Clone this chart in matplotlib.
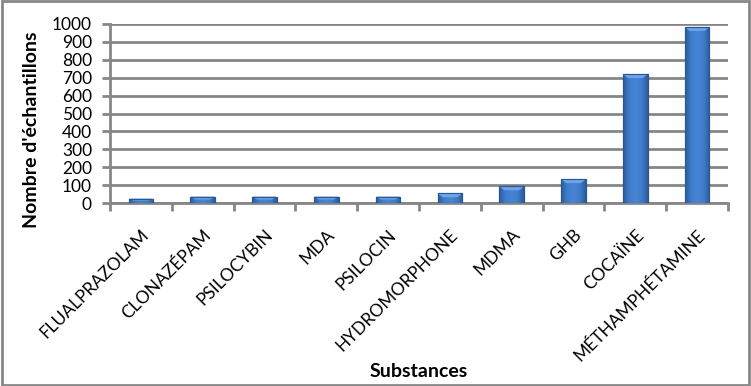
import matplotlib
matplotlib.use("Agg")
import matplotlib.pyplot as plt
import numpy as np
from matplotlib.patches import Rectangle, Polygon
from matplotlib.colors import LinearSegmentedColormap

categories = ["FLUALPRAZOLAM", "CLONAZÉPAM", "PSILOCYBIN", "MDA", "PSILOCIN",
              "HYDROMORPHONE", "MDMA", "GHB", "COCAÏNE", "MÉTHAMPHÉTAMINE"]
values = [25, 36, 36, 36, 36, 54, 93, 133, 720, 983]
yticks = [0, 100, 200, 300, 400, 500, 600, 700, 800, 900, 1000]

plt.rcParams['font.family'] = ['Lato', 'DejaVu Sans']

fig = plt.figure(figsize=(7.51, 3.86), dpi=100)
ax = fig.add_axes([110/751, 1-203/386, (728-110)/751, (203-24)/386])

x = np.arange(len(categories))
bars = ax.bar(x, values, width=0.4, color="#3A72BD", edgecolor="#2A5590", linewidth=0.8, zorder=3)

cmap = LinearSegmentedColormap.from_list("bev", ["#2C5C9C", "#3F7DCB", "#4585D3", "#3F7DCB", "#2C5C9C"])
grad = np.linspace(0, 1, 64).reshape(1, -1)
for b in bars:
    h = b.get_height()
    bx = b.get_x()
    w = b.get_width()
    im = ax.imshow(grad, cmap=cmap, aspect="auto", extent=(bx, bx + w, 0, h), zorder=3.5)
    im.set_clip_path(b)
    cap = min(h * 0.45, 22)
    ax.add_patch(Polygon([(bx, h), (bx + w, h), (bx + w*0.8, h - cap), (bx + w*0.2, h - cap)],
                         closed=True, facecolor="#6BA4EA", edgecolor="none", zorder=4))
    ax.add_patch(Rectangle((bx, 0), w, h, fill=False, edgecolor="#2A5590", linewidth=0.8, zorder=5))

ax.set_xlim(-0.5, len(categories) - 0.5)
ax.set_ylim(0, 1000)
ax.set_yticks(yticks)
ax.set_yticklabels([str(t) for t in yticks], fontsize=12.5)
ax.yaxis.grid(True, color="#868686", linewidth=2, zorder=0)
ax.set_axisbelow(True)

ax.set_xticks(x)
ax.set_xticklabels(categories, rotation=45, ha="right", rotation_mode="anchor", fontsize=12.5)
ax.tick_params(axis="x", length=0, pad=17)
ax.set_xticks(np.arange(-0.5, len(categories), 1), minor=True)
ax.tick_params(axis="x", which="minor", length=5.5, width=2, color="#868686")
ax.tick_params(axis="y", length=6, width=2, color="#868686", pad=7)

for s in ["top", "right"]:
    ax.spines[s].set_visible(False)
for s in ["left", "bottom"]:
    ax.spines[s].set_color("#868686")
    ax.spines[s].set_linewidth(2)

ax.set_ylabel("Nombre d'échantillons", fontsize=14, fontweight="bold")
ax.yaxis.set_label_coords(-0.114, 0.408)
ax.set_xlabel("Substances", fontsize=14, fontweight="bold")
ax.xaxis.set_label_coords(0.5, -(363 - 203) / 179)

fig.patches.append(Rectangle((0.002, 0.003), 0.996, 0.994, transform=fig.transFigure,
                             fill=False, edgecolor="#868686", linewidth=2))

fig.savefig("out.png", dpi=100)
